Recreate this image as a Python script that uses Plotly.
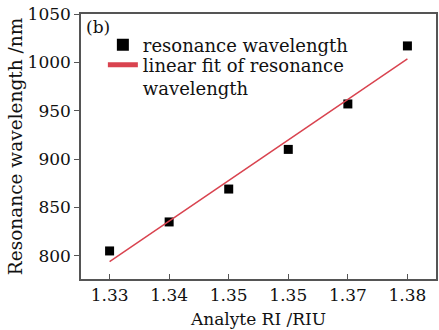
import numpy as np
import plotly.graph_objects as go

ri = [1.33, 1.34, 1.35, 1.36, 1.37, 1.38]
wavelength = [805, 835, 869, 910, 957, 1017]
x_tick_vals = [1.33, 1.34, 1.35, 1.36, 1.37, 1.38]
x_tick_text = ["1.33", "1.34", "1.35", "1.35", "1.37", "1.38"]
y_tick_vals = [800, 850, 900, 950, 1000, 1050]

slope, intercept = np.polyfit(ri, wavelength, 1)
fit_y = [slope * v + intercept for v in ri]

FONT = "DejaVu Serif"
TXT = "#111111"
fig = go.Figure()
fig.add_trace(go.Scatter(x=ri, y=wavelength, mode="markers", name="resonance wavelength",
                         marker=dict(symbol="square", size=9, color="black"), legend="legend", showlegend=True))
fig.add_trace(go.Scatter(x=ri, y=fit_y, mode="lines", name="linear fit of resonance<br>wavelength",
                         line=dict(color="#d9434f", width=1.5), legend="legend2", showlegend=True))

axis_common = dict(showgrid=False, zeroline=False, showline=True, linecolor="#555555",
                   linewidth=1.5, mirror=True, tickcolor="#555555", ticklen=5,
                   tickfont=dict(family=FONT, size=17, color=TXT))
fig.update_xaxes(range=[1.3252, 1.3848], tickvals=x_tick_vals, ticktext=x_tick_text,
                 ticks="inside", title=dict(text="Analyte RI /RIU", font=dict(family=FONT, size=17, color=TXT), standoff=9),
                 **axis_common)
fig.update_yaxes(range=[776, 1050], tickvals=y_tick_vals, ticks="outside",
                 title=dict(text="Resonance wavelength /nm", font=dict(family=FONT, size=18.5, color=TXT), standoff=0),
                 **axis_common)
fig.add_annotation(text="(b)", xref="paper", yref="paper", x=0.008, y=0.995, xanchor="left", yanchor="top",
                   showarrow=False, font=dict(family=FONT, size=17, color=TXT))
leg_common = dict(xanchor="left", yanchor="top", bgcolor="rgba(0,0,0,0)",
                  font=dict(family=FONT, size=18, color=TXT), itemsizing="constant", valign="top")
fig.update_layout(width=439, height=330, margin=dict(l=81, r=1, t=14, b=51), showlegend=True,
                  plot_bgcolor="white", paper_bgcolor="white",
                  legend=dict(x=0.0616, y=0.953, **leg_common),
                  legend2=dict(x=0.0616, y=0.877, **leg_common))
fig.write_html("out.html")
